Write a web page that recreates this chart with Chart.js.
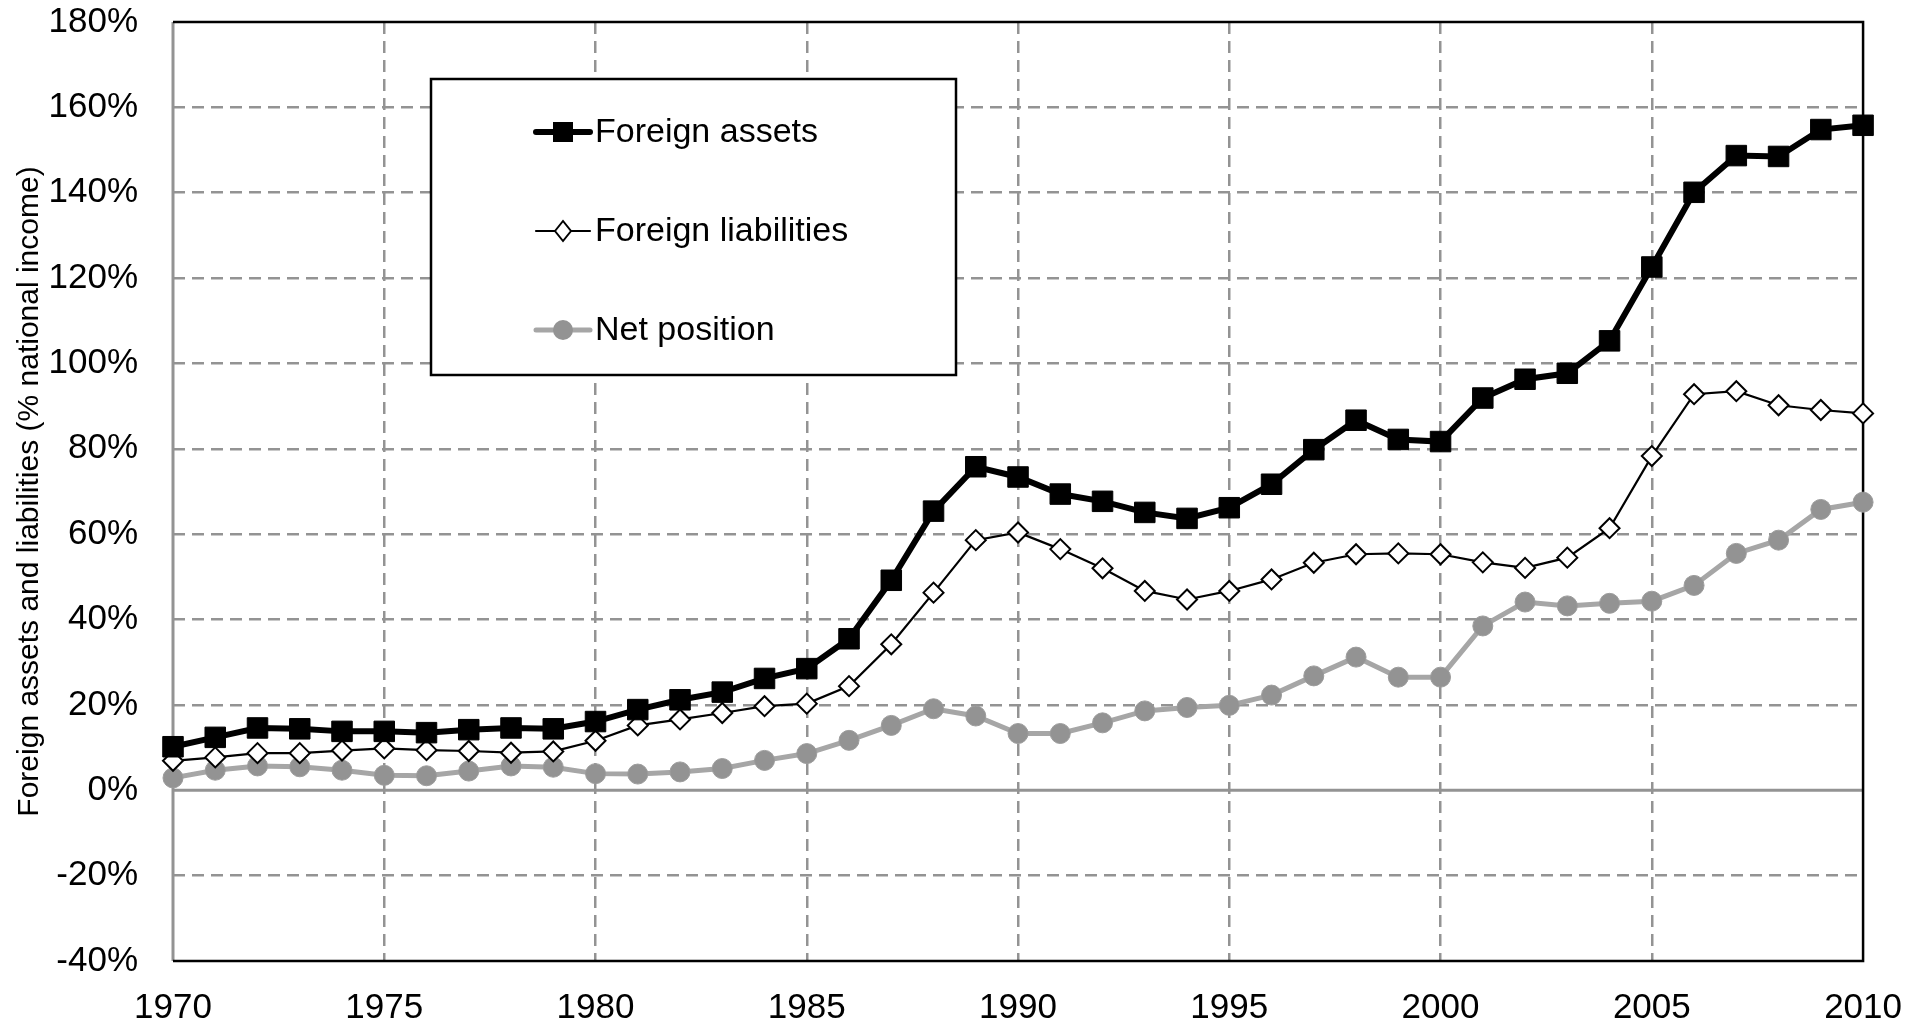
<!DOCTYPE html>
<html>
<head>
<meta charset="utf-8">
<script src="https://cdn.jsdelivr.net/npm/chart.js@4.4.1/dist/chart.umd.min.js"></script>
<style>
  html, body { margin: 0; padding: 0; background: #fff; }
  canvas { display: block; }
</style>
</head>
<body>
<canvas id="chart" width="1928" height="1028"></canvas>
<script>
const years = [1970, 1971, 1972, 1973, 1974, 1975, 1976, 1977, 1978, 1979,
    1980, 1981, 1982, 1983, 1984, 1985, 1986, 1987, 1988, 1989,
    1990, 1991, 1992, 1993, 1994, 1995, 1996, 1997, 1998, 1999,
    2000, 2001, 2002, 2003, 2004, 2005, 2006, 2007, 2008, 2009, 2010];

const foreignAssets = [10.2, 12.4, 14.6, 14.4, 13.8, 13.8, 13.5, 14.2, 14.6, 14.4,
    16.1, 18.9, 21.2, 23.0, 26.2, 28.5, 35.5, 49.2, 65.4, 75.8,
    73.4, 69.4, 67.7, 65.1, 63.7, 66.2, 71.7, 79.8, 86.7, 82.2,
    81.7, 91.9, 96.3, 97.7, 105.3, 122.6, 140.1, 148.7, 148.5, 154.8, 155.8];

const foreignLiabilities = [6.9, 7.7, 8.7, 8.7, 9.3, 9.8, 9.4, 9.2, 8.8, 9.1,
    11.6, 15.2, 16.6, 18.1, 19.7, 20.3, 24.4, 34.2, 46.3, 58.6,
    60.4, 56.5, 52.0, 46.7, 44.7, 46.7, 49.4, 53.3, 55.3, 55.5,
    55.3, 53.4, 52.1, 54.5, 61.4, 78.3, 92.8, 93.5, 90.2, 89.1, 88.3];

const netPosition = [2.9, 4.7, 5.7, 5.5, 4.7, 3.5, 3.4, 4.5, 5.7, 5.4,
    3.9, 3.8, 4.3, 5.1, 7.0, 8.6, 11.7, 15.2, 19.1, 17.4,
    13.3, 13.3, 15.8, 18.6, 19.4, 19.9, 22.3, 26.8, 31.2, 26.5,
    26.5, 38.5, 44.1, 43.2, 43.8, 44.3, 48.0, 55.5, 58.6, 65.8, 67.5];

const yMin = -40, yMax = 180, yStep = 20;
const xMin = 1970, xMax = 2010, xStep = 5;
const yTitle = "Foreign assets and liabilities (% national income)";

const FONT = "'Liberation Sans', Arial, sans-serif";
const GRID = "#939393";
const NONE = "rgba(0,0,0,0)";

const toPoints = (vals) => vals.map((v, i) => ({x: years[i], y: v}));

// frame + solid zero line, under the lines
const framePlugin = {
    id: "frame",
    beforeDatasetsDraw(chart) {
        const {ctx, chartArea: a, scales} = chart;
        const y0 = scales.y.getPixelForValue(0);
        ctx.save();
        ctx.lineWidth = 3;
        ctx.strokeStyle = GRID;
        ctx.beginPath();
        ctx.moveTo(a.left, y0);
        ctx.lineTo(a.right, y0);
        ctx.stroke();
        ctx.beginPath();
        ctx.moveTo(a.left, a.top);
        ctx.lineTo(a.left, a.bottom);
        ctx.stroke();
        ctx.strokeStyle = "#000";
        ctx.lineWidth = 2.5;
        ctx.beginPath();
        ctx.moveTo(a.left, a.top);
        ctx.lineTo(a.right, a.top);
        ctx.lineTo(a.right, a.bottom);
        ctx.lineTo(a.left, a.bottom);
        ctx.stroke();
        ctx.restore();
    }
};

function drawMarker(ctx, style, x, y) {
    ctx.beginPath();
    if (style === "rect") {
        ctx.rect(x - 10, y - 10, 20, 20);
        ctx.fillStyle = "#000";
        ctx.fill();
    } else if (style === "rectRot") {
        ctx.moveTo(x - 8, y);
        ctx.lineTo(x, y - 10);
        ctx.lineTo(x + 8, y);
        ctx.lineTo(x, y + 10);
        ctx.closePath();
        ctx.fillStyle = "#fff";
        ctx.fill();
        ctx.lineWidth = 2;
        ctx.strokeStyle = "#000";
        ctx.stroke();
    } else {
        ctx.arc(x, y, 10, 0, Math.PI * 2);
        ctx.fillStyle = "#939393";
        ctx.fill();
    }
}

// legend box inside the plot, like the original
const boxLegend = {
    id: "boxLegend",
    afterDatasetsDraw(chart) {
        const ctx = chart.ctx;
        const box = {x: 431, y: 79, w: 525, h: 296};
        ctx.save();
        ctx.fillStyle = "#fff";
        ctx.fillRect(box.x, box.y, box.w, box.h);
        ctx.lineWidth = 2.5;
        ctx.strokeStyle = "#000";
        ctx.strokeRect(box.x, box.y, box.w, box.h);
        const rows = [132, 231, 330];
        chart.data.datasets.forEach((ds, i) => {
            const y = rows[i];
            ctx.beginPath();
            ctx.moveTo(536, y);
            ctx.lineTo(590, y);
            ctx.lineWidth = ds.borderWidth;
            ctx.strokeStyle = ds.borderColor;
            ctx.lineCap = "round";
            ctx.stroke();
            drawMarker(ctx, ds.pointStyle, 563, y);
            ctx.fillStyle = "#000";
            ctx.font = "34px " + FONT;
            ctx.textBaseline = "middle";
            ctx.textAlign = "left";
            ctx.fillText(ds.label, 595, y + 1);
        });
        ctx.restore();
    }
};

new Chart(document.getElementById("chart"), {
    type: "line",
    data: {
        datasets: [
            {
                label: "Foreign assets",
                data: toPoints(foreignAssets),
                borderColor: "#000",
                borderWidth: 6,
                pointStyle: "rect",
                pointRadius: 14.5,
                pointBackgroundColor: "#000",
                pointBorderColor: "#000",
                pointBorderWidth: 1,
                clip: false
            },
            {
                label: "Foreign liabilities",
                data: toPoints(foreignLiabilities),
                borderColor: "#000",
                borderWidth: 2.2,
                pointStyle: "rectRot",
                pointRadius: 10,
                pointBackgroundColor: "#fff",
                pointBorderColor: "#000",
                pointBorderWidth: 2,
                clip: false
            },
            {
                label: "Net position",
                data: toPoints(netPosition),
                borderColor: "#a6a6a6",
                borderWidth: 5,
                pointStyle: "circle",
                pointRadius: 10,
                pointBackgroundColor: "#939393",
                pointBorderColor: "#9c9c9c",
                pointBorderWidth: 1,
                clip: false
            }
        ]
    },
    options: {
        responsive: false,
        animation: false,
        layout: {padding: {left: 0, top: 22, right: 64, bottom: 0}},
        plugins: {
            legend: {display: false},
            tooltip: {enabled: false}
        },
        scales: {
            x: {
                type: "linear",
                min: xMin,
                max: xMax,
                afterFit: (s) => { s.height = 67; },
                ticks: {
                    stepSize: xStep,
                    color: "#000",
                    padding: 26,
                    maxRotation: 0,
                    font: {family: FONT, size: 35},
                    callback: (v) => String(v)
                },
                grid: {
                    drawTicks: false,
                    lineWidth: 2.5,
                    color: (c) => (c.tick && (c.tick.value === xMin || c.tick.value === xMax)) ? NONE : GRID
                },
                border: {display: false, dash: [12, 7]}
            },
            y: {
                min: yMin,
                max: yMax,
                afterFit: (s) => { s.width = 173; },
                ticks: {
                    stepSize: yStep,
                    color: "#000",
                    padding: 0,
                    font: {family: FONT, size: 35},
                    callback: (v) => v + "%"
                },
                grid: {
                    drawTicks: true,
                    tickLength: 35,
                    tickColor: NONE,
                    lineWidth: 2.5,
                    color: (c) => (c.tick && [yMin, 0, yMax].includes(c.tick.value)) ? NONE : GRID
                },
                border: {display: false, dash: [12, 7]},
                title: {
                    display: true,
                    text: yTitle,
                    color: "#000",
                    font: {family: FONT, size: 30},
                    padding: {top: 12, bottom: 0}
                }
            }
        }
    },
    plugins: [framePlugin, boxLegend]
});
</script>
</body>
</html>
